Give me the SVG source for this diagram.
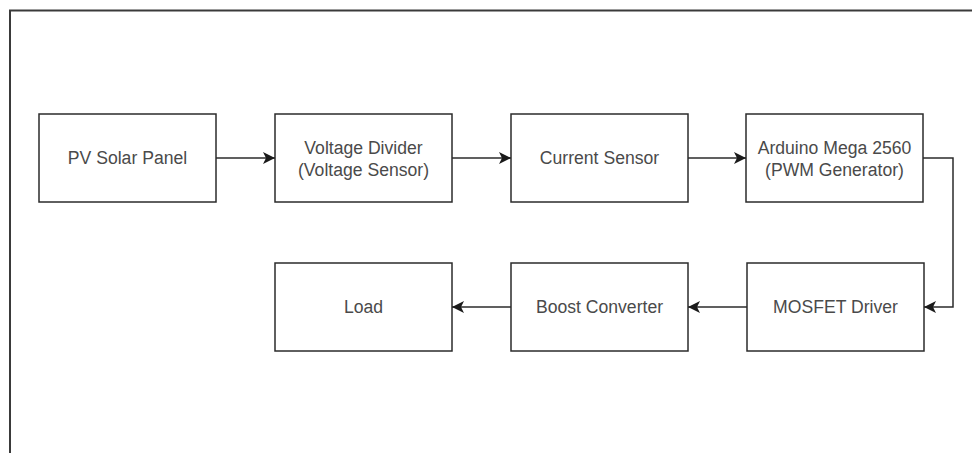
<svg xmlns="http://www.w3.org/2000/svg" width="972" height="453" viewBox="0 0 972 453">
  <style>
    .box { fill: #ffffff; stroke: #2b2b2b; stroke-width: 1.5; }
    .label { font-family: "Liberation Sans", Arial, sans-serif; font-size: 17.6px; fill: #4a4a4a; text-anchor: middle; dominant-baseline: central; }
    .edge { fill: none; stroke: #2b2b2b; stroke-width: 1.5; }
    .frame { fill: none; stroke: #3a3a3a; stroke-width: 2; }
  </style>
  <defs>
    <marker id="arrow" viewBox="0 0 12 12" refX="12" refY="6" markerWidth="12" markerHeight="12" markerUnits="userSpaceOnUse" orient="auto">
      <path d="M0,0 L12,6 L0,12 L3,6 Z" fill="#1a1a1a"/>
    </marker>
  </defs>
  <rect width="972" height="453" fill="#ffffff"/>
  <!-- outer frame: top and left edges -->
  <path class="frame" d="M10,453 V10.5 H972"/>

  <g id="pv-solar-panel">
    <rect class="box" x="39" y="114" width="177" height="88"/>
    <text class="label" x="127.5" y="158">PV Solar Panel</text>
  </g>
  <g id="voltage-divider">
    <rect class="box" x="275" y="114" width="177" height="88"/>
    <text class="label" x="363.5" y="147.5">Voltage Divider</text>
    <text class="label" x="363.5" y="169.5">(Voltage Sensor)</text>
  </g>
  <g id="current-sensor">
    <rect class="box" x="511" y="114" width="177" height="88"/>
    <text class="label" x="599.5" y="158">Current Sensor</text>
  </g>
  <g id="arduino">
    <rect class="box" x="746" y="114" width="177" height="88"/>
    <text class="label" x="834.5" y="147.5">Arduino Mega 2560</text>
    <text class="label" x="834.5" y="169.5">(PWM Generator)</text>
  </g>
  <g id="load">
    <rect class="box" x="275" y="263" width="177" height="88"/>
    <text class="label" x="363.5" y="307">Load</text>
  </g>
  <g id="boost-converter">
    <rect class="box" x="511" y="263" width="177" height="88"/>
    <text class="label" x="599.5" y="307">Boost Converter</text>
  </g>
  <g id="mosfet-driver">
    <rect class="box" x="747" y="263" width="177" height="88"/>
    <text class="label" x="835.5" y="307">MOSFET Driver</text>
  </g>

  <g id="connectors">
    <path class="edge" d="M216,158 H275" marker-end="url(#arrow)"/>
    <path class="edge" d="M452,158 H511" marker-end="url(#arrow)"/>
    <path class="edge" d="M688,158 H746" marker-end="url(#arrow)"/>
    <path class="edge" d="M923,158 H953 V307 H924" marker-end="url(#arrow)"/>
    <path class="edge" d="M747,307 H688" marker-end="url(#arrow)"/>
    <path class="edge" d="M511,307 H452" marker-end="url(#arrow)"/>
  </g>
</svg>
